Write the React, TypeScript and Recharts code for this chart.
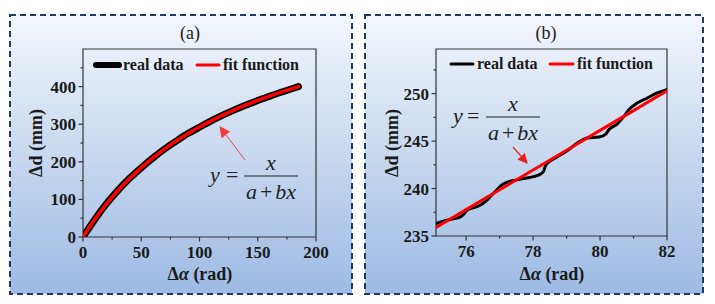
import React from 'react'
import { LineChart, Line, XAxis, YAxis, ReferenceArea } from 'recharts'

// (a) whole run: rotation angle vs. displacement
const alphaA = [0, 10, 20, 30, 40, 50, 60, 70, 80, 90, 100, 110, 120, 130, 140, 150, 160, 170, 180, 185]
const realDataA = [0, 46, 88, 124, 156, 184, 210, 234, 255, 275, 292, 309, 324, 338, 351, 363, 374, 385, 395, 400]
const fitA = [0, 46.7, 87.6, 123.7, 155.8, 184.5, 210.4, 233.8, 255.1, 274.6, 292.4, 308.8, 324, 338, 351.1, 363.2, 374.5, 385.1, 395.1, 399.8]

// (b) close-up of 75..82 rad
const alphaRealB = [
  75.1, 75.34, 75.58, 75.78, 75.93, 76.03, 76.23, 76.43, 76.63, 76.77, 76.92, 77.07, 77.27, 77.52, 77.77, 78.01,
  78.21, 78.31, 78.36, 78.46, 78.66, 78.86, 79.1, 79.32, 79.62, 79.97, 80.17, 80.26, 80.51, 80.71, 80.86, 81.11,
  81.41, 81.71, 82.0,
]
const realDataB = [
  236.3, 236.58, 236.8, 236.93, 237.29, 237.75, 237.99, 238.27, 238.8, 239.33, 239.86, 240.39, 240.73, 240.91,
  241.09, 241.26, 241.51, 241.79, 242.32, 242.78, 243.2, 243.63, 244.2, 244.79, 245.32, 245.42, 245.74, 246.19,
  246.79, 247.6, 248.3, 249.01, 249.54, 250.07, 250.42,
]
const alphaFitB = [75.1, 76, 77, 78, 79, 80, 81, 82]
const fitB = [235.9, 237.78, 239.87, 241.95, 244.04, 246.13, 248.21, 250.3]

const seriesNames = ['real data', 'fit function']

const xMajorA = [0, 50, 100, 150, 200]
const xMinorA = [25, 75, 125, 175]
const yMajorA = [0, 100, 200, 300, 400]
const yMinorA = [50, 150, 250, 350, 450]
const xMajorB = [76, 78, 80, 82]
const xMinorB = [77, 79, 81]
const yMajorB = [235, 240, 245, 250]
const yMinorB = [237.5, 242.5, 247.5, 252.5]

const SERIF = "'Liberation Serif', 'Times New Roman', serif"
const INK = '#1a1a1a'
const FRAME = '#353535'
const RED = '#ff0000'

const toPoints = (xs: number[], ys: number[]) => xs.map((x, i) => ({ x, y: ys[i] }))

// tickSize/tickMargin are 0, so x/y arrive on the axis line and we draw the marks ourselves
const axisTick = (side: 'bottom' | 'left', majors: number[]) => (props: any) => {
  const { x, y, payload } = props
  const major = majors.includes(payload.value)
  const len = major ? 4.5 : 2.5
  if (side === 'bottom') {
    return (
      <g>
        <line x1={x} x2={x} y1={y} y2={y + len} stroke={FRAME} strokeWidth={1.2} />
        {major && (
          <text x={x} y={y + 21} textAnchor="middle" fontFamily={SERIF} fontWeight="bold" fontSize={17} fill={INK}>
            {payload.value}
          </text>
        )}
      </g>
    )
  }
  return (
    <g>
      <line x1={x} x2={x - len} y1={y} y2={y} stroke={FRAME} strokeWidth={1.2} />
      {major && (
        <text x={x - 7} y={y + 6} textAnchor="end" fontFamily={SERIF} fontWeight="bold" fontSize={17} fill={INK}>
          {payload.value}
        </text>
      )}
    </g>
  )
}

type PanelProps = {
  left: number
  width: number
  margin: { top: number; right: number; bottom: number; left: number }
  xDomain: [number, number]
  yDomain: [number, number]
  xMajor: number[]
  xMinor: number[]
  yMajor: number[]
  yMinor: number[]
  real: { x: number; y: number }[]
  fit: { x: number; y: number }[]
  realWidth: number
  fitWidth: number
  fitType: 'monotone' | 'linear'
}

function Panel(p: PanelProps) {
  const sortAll = (a: number[], b: number[]) => [...a, ...b].sort((m, n) => m - n)
  return (
    <div style={{ position: 'absolute', left: p.left, top: 0 }}>
      <LineChart width={p.width} height={304} margin={p.margin}>
        <XAxis
          type="number"
          dataKey="x"
          domain={p.xDomain}
          allowDataOverflow
          ticks={sortAll(p.xMajor, p.xMinor)}
          interval={0}
          tickSize={0}
          tickMargin={0}
          tickLine={false}
          axisLine={false}
          tick={axisTick('bottom', p.xMajor)}
          height={30}
        />
        <YAxis
          type="number"
          domain={p.yDomain}
          allowDataOverflow
          ticks={sortAll(p.yMajor, p.yMinor)}
          interval={0}
          tickSize={0}
          tickMargin={0}
          tickLine={false}
          axisLine={false}
          tick={axisTick('left', p.yMajor)}
          width={40}
        />
        <ReferenceArea
          x1={p.xDomain[0]}
          x2={p.xDomain[1]}
          y1={p.yDomain[0]}
          y2={p.yDomain[1]}
          fill="none"
          stroke={FRAME}
          strokeWidth={1.2}
          ifOverflow="visible"
        />
        <Line
          data={p.real}
          dataKey="y"
          name={seriesNames[0]}
          type="monotone"
          stroke="#000"
          strokeWidth={p.realWidth}
          strokeLinecap="round"
          strokeLinejoin="round"
          dot={false}
          isAnimationActive={false}
        />
        <Line
          data={p.fit}
          dataKey="y"
          name={seriesNames[1]}
          type={p.fitType}
          stroke={RED}
          strokeWidth={p.fitWidth}
          strokeLinecap="round"
          dot={false}
          isAnimationActive={false}
        />
      </LineChart>
    </div>
  )
}

function LegendItems({ y, items }: { y: number; items: { x1: number; x2: number; color: string; w: number; name: string }[] }) {
  return (
    <g>
      {items.map((it) => (
        <g key={it.name}>
          <line x1={it.x1} x2={it.x2} y1={y} y2={y} stroke={it.color} strokeWidth={it.w} strokeLinecap="round" />
          <text x={it.x2 + 4} y={y + 5} fontFamily={SERIF} fontWeight="bold" fontSize={16} fill={INK}>
            {it.name}
          </text>
        </g>
      ))}
    </g>
  )
}

function Formula({ yx, eqx, barFrom, barTo, barY }: { yx: number; eqx: number; barFrom: number; barTo: number; barY: number }) {
  const cx = (barFrom + barTo) / 2
  return (
    <g fontFamily={SERIF} fontSize={22} fill="#222">
      <text x={yx} y={barY + 6} fontStyle="italic">y</text>
      <text x={eqx} y={barY + 6}>=</text>
      <line x1={barFrom} x2={barTo} y1={barY} y2={barY} stroke="#222" strokeWidth={1.1} />
      <text x={cx} y={barY - 6} textAnchor="middle" fontStyle="italic">x</text>
      <text x={cx} y={barY + 23} textAnchor="middle">
        <tspan fontStyle="italic">a</tspan>
        <tspan dx={3}>+</tspan>
        <tspan dx={3} fontStyle="italic">bx</tspan>
      </text>
    </g>
  )
}

function AxisTitles({ xCenter, yCenterX }: { xCenter: number; yCenterX: number }) {
  return (
    <g fontFamily={SERIF} fontWeight="bold" fontSize={18} fill={INK}>
      <text x={xCenter} y={280} textAnchor="middle">
        <tspan>Δ</tspan>
        <tspan fontStyle="italic">α</tspan>
        <tspan> (rad)</tspan>
      </text>
      <text
        x={yCenterX}
        y={143}
        textAnchor="middle"
        dominantBaseline="central"
        transform={`rotate(-90 ${yCenterX} 143)`}
      >
        Δd (mm)
      </text>
    </g>
  )
}

export default function App() {
  return (
    <div style={{ position: 'absolute', left: 0, top: 0, width: 715, height: 304, background: '#fff' }}>
      <svg width={715} height={304} style={{ position: 'absolute', left: 0, top: 0 }}>
        <defs>
          <linearGradient id="panelFill" x1="0" y1="0" x2="0" y2="1">
            <stop offset="0%" stopColor="#f4f7fc" />
            <stop offset="55%" stopColor="#c3d5ee" />
            <stop offset="100%" stopColor="#9dbbe3" />
          </linearGradient>
        </defs>
        <rect x={10} y={15} width={342} height={279} fill="url(#panelFill)" stroke="#1f3a60" strokeWidth={2} strokeDasharray="6 4" />
        <rect x={365} y={15} width={338} height={279} fill="url(#panelFill)" stroke="#1f3a60" strokeWidth={2} strokeDasharray="6 4" />
      </svg>

      <Panel
        left={0}
        width={357}
        margin={{ top: 49, right: 41, bottom: 37, left: 43 }}
        xDomain={[0, 200]}
        yDomain={[0, 500]}
        xMajor={xMajorA}
        xMinor={xMinorA}
        yMajor={yMajorA}
        yMinor={yMinorA}
        real={toPoints(alphaA, realDataA)}
        fit={toPoints(alphaA, fitA)}
        realWidth={7}
        fitWidth={3.5}
        fitType="monotone"
      />
      <Panel
        left={357}
        width={358}
        margin={{ top: 49, right: 48, bottom: 38, left: 39 }}
        xDomain={[75.1, 82]}
        yDomain={[235, 254.7]}
        xMajor={xMajorB}
        xMinor={xMinorB}
        yMajor={yMajorB}
        yMinor={yMinorB}
        real={toPoints(alphaRealB, realDataB)}
        fit={toPoints(alphaFitB, fitB)}
        realWidth={3}
        fitWidth={3}
        fitType="linear"
      />

      <svg width={715} height={304} style={{ position: 'absolute', left: 0, top: 0, pointerEvents: 'none' }}>
        <defs>
          <marker id="headA" viewBox="0 0 10 10" refX="9" refY="5" markerWidth="11" markerHeight="11" markerUnits="userSpaceOnUse" orient="auto">
            <path d="M0,0 L10,5 L0,10 z" fill="#f23a3a" />
          </marker>
          <marker id="headB" viewBox="0 0 10 10" refX="9" refY="5" markerWidth="10" markerHeight="10" markerUnits="userSpaceOnUse" orient="auto">
            <path d="M0,0 L10,5 L0,10 z" fill="#f01c1c" />
          </marker>
        </defs>

        <text x={190} y={39} textAnchor="middle" fontFamily={SERIF} fontSize={18} fill={INK}>(a)</text>
        <text x={546} y={39} textAnchor="middle" fontFamily={SERIF} fontSize={18} fill={INK}>(b)</text>

        <AxisTitles xCenter={200} yCenterX={36} />
        <AxisTitles xCenter={552} yCenterX={392} />

        <LegendItems
          y={65}
          items={[
            { x1: 96, x2: 119, color: '#000', w: 6, name: seriesNames[0] },
            { x1: 197, x2: 219, color: RED, w: 3, name: seriesNames[1] },
          ]}
        />
        <LegendItems
          y={64}
          items={[
            { x1: 451, x2: 473, color: '#000', w: 3, name: seriesNames[0] },
            { x1: 550, x2: 573, color: RED, w: 3, name: seriesNames[1] },
          ]}
        />

        <Formula yx={210} eqx={226} barFrom={244} barTo={298} barY={176} />
        <Formula yx={453} eqx={467} barFrom={486} barTo={540} barY={117} />

        <line x1={245} y1={160} x2={220} y2={127} stroke="#f04848" strokeWidth={1} markerEnd="url(#headA)" />
        <line x1={513} y1={147} x2={527} y2={163} stroke="#f01c1c" strokeWidth={1.2} markerEnd="url(#headB)" />
      </svg>
    </div>
  )
}
